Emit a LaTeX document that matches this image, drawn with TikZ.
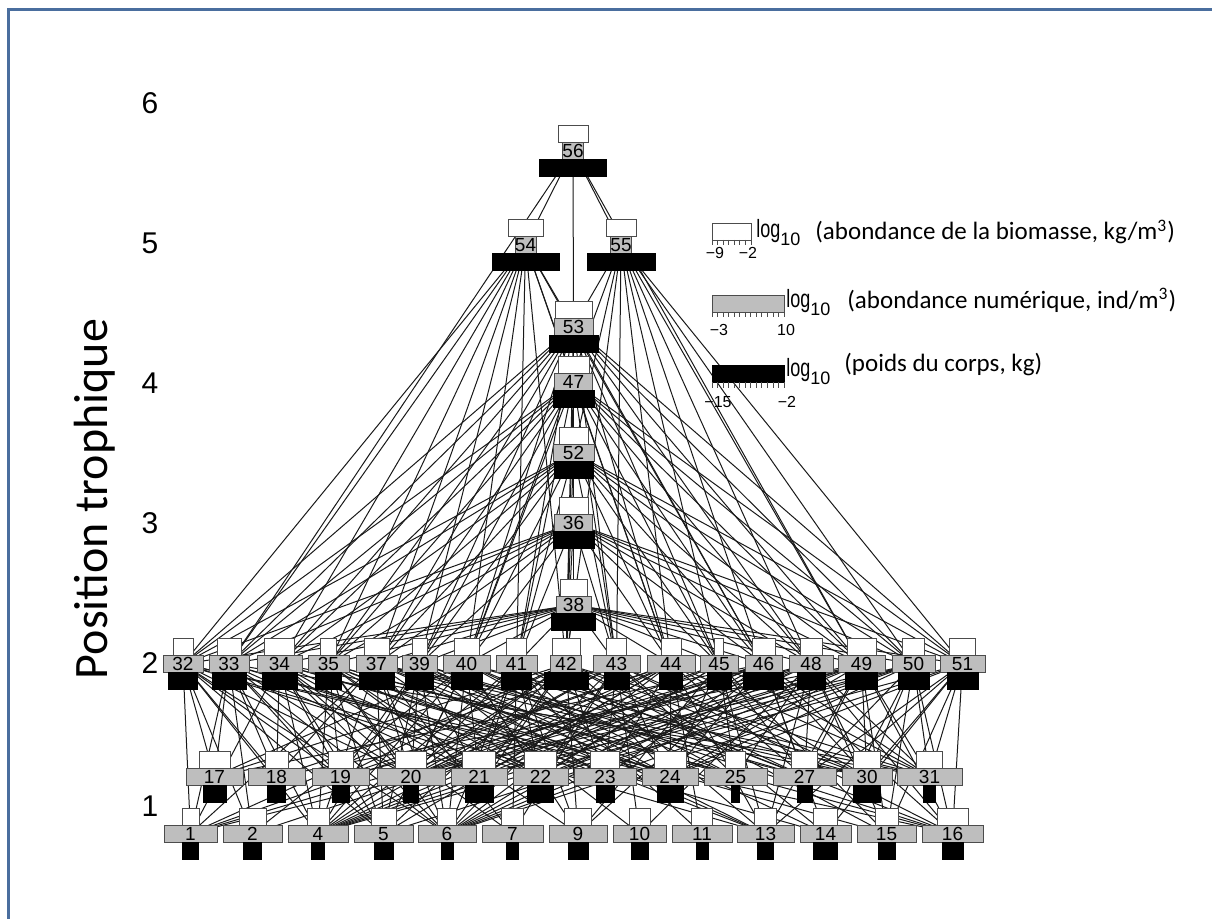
\documentclass[tikz,border=0pt]{standalone}
\usepackage{fontspec}
\setmainfont{Liberation Sans}
\newfontfamily\calibri{Carlito}
\usetikzlibrary{positioning,backgrounds}
\definecolor{frameblue}{RGB}{74,110,158}
\definecolor{boxgray}{RGB}{190,190,190}

\begin{document}
\begin{tikzpicture}[x=0.5pt, y=-0.5pt,
biobox/.style={rectangle, draw=black!70, fill=white, inner sep=0pt, minimum height=8.5pt},
numbox/.style={rectangle, draw=black!70, fill=boxgray, inner sep=0pt, minimum height=8.5pt,
  text height=6.8pt, text depth=0pt, font=\fontsize{9.5}{10}\selectfont},
massbox/.style={rectangle, draw=black, fill=black, inner sep=0pt, minimum height=8.5pt},
link/.style={black!90, line width=0.5pt},
ticklbl/.style={font=\fontsize{8}{9}\selectfont, inner sep=0pt},
loglbl/.style={anchor=west, inner sep=0pt},
levellbl/.style={font=\fontsize{15}{17}\selectfont, inner sep=0pt},
legtext/.style={font=\calibri\fontsize{12.5}{14}\selectfont, anchor=west, inner sep=0pt},
]
\useasboundingbox (0,0) rectangle (1212,919);

%Frame
\draw[frameblue, line width=1.5pt] (8,919) -- (8,9.5) -- (1212,9.5);

%Nodes: number / x / y / biomass / abundance / body weight
\foreach \n/\x/\y/\ww/\wg/\wb in {56/573/150.5/30/16/67, 54/525.5/244.5/35/18/67, 55/621/244.5/30/15/68,
  53/573.5/326.5/37/39/49, 47/573.5/381.5/31/38/41, 52/573.5/452.5/29/41/39,
  36/573.5/523/29/38/41, 38/573.5/605/27/35/44}{
  \node[numbox, minimum width=\wg*0.5pt] (s\n) at (\x,\y) {\n};
  \node[biobox, minimum width=\ww*0.5pt] (w\n) at (\x,\y-17) {};
  \node[massbox, minimum width=\wb*0.5pt] (m\n) at (\x,\y+17) {};
}
\foreach \n/\x/\ww/\wg/\wb in {32/183/20/40/29, 33/229/24/40/34, 34/279.5/30/45/35, 35/328.5/16/41/26,
  37/376.5/25/41/35, 39/419.5/15/35/28, 40/466.5/25/47/31, 41/516.5/20/41/30, 42/566/28/31/44,
  43/616.5/20/47/25, 44/671/20/48/23, 45/719/9/38/24, 46/763.5/23/37/40, 48/811/22/44/28,
  49/861.5/29/47/32, 50/913.5/22/43/31, 51/962.5/26/45/31}{
  \node[numbox, minimum width=\wg*0.5pt] (s\n) at (\x,664) {\n};
  \node[biobox, minimum width=\ww*0.5pt] (w\n) at (\x,647) {};
  \node[massbox, minimum width=\wb*0.5pt] (m\n) at (\x,681) {};
}
\foreach \n/\x/\ww/\wg/\wb in {17/214.5/31/57/23, 18/276.5/23/57/18, 19/340.5/25/57/17, 20/411/31/68/15,
  21/479/33/56/28, 22/540.5/32/55/26, 23/605/29/62/18, 24/670/32/56/26, 25/735.5/20/63/8,
  27/804.5/26/63/15, 30/867/27/50/27, 31/929.5/26/65/12}{
  \node[numbox, minimum width=\wg*0.5pt] (s\n) at (\x,776.5) {\n};
  \node[biobox, minimum width=\ww*0.5pt] (w\n) at (\x,759.5) {};
  \node[massbox, minimum width=\wb*0.5pt] (m\n) at (\x,793.5) {};
}
\foreach \n/\x/\ww/\wg/\wb in {1/190.5/17/53/16, 2/252.5/27/59/18, 4/318/22/60/13, 5/383.5/25/59/19,
  6/447/19/58/12, 7/512.5/22/61/12, 9/578/27/58/20, 10/639.5/21/53/17, 11/702/21/60/12,
  13/765.5/22/57/16, 14/825.5/24/51/24, 15/886.5/23/59/17, 16/952.5/31/61/21}{
  \node[numbox, minimum width=\wg*0.5pt] (s\n) at (\x,833.5) {\n};
  \node[biobox, minimum width=\ww*0.5pt] (w\n) at (\x,816.5) {};
  \node[massbox, minimum width=\wb*0.5pt] (m\n) at (\x,850.5) {};
}

%Lines (predator / prey)
\begin{pgfonlayer}{background}
\foreach \p/\preys in {56/{54,55,53,33,49}, 54/{53,47,32,33,34,35,37,39,40,41,42,44,46},
  55/{53,52,40,42,43,44,45,46,48,49,50,51}, 53/{47}, 47/{52}, 52/{36}, 36/{38},
  32/{17,18,19,20,22,1,2,4,5,6,13,16,24}, 33/{17,18,19,21,23,1,2,4,5,6,14,31,20},
  34/{18,19,20,22,24,1,4,5,6,7,15,30,21}, 35/{19,20,21,23,25,4,5,6,9,16,22,13},
  37/{18,20,22,24,25,27,1,4,5,6,7,13,31,30}, 39/{19,20,21,23,24,4,5,6,10,16,27,13},
  40/{17,20,21,22,24,30,2,4,5,6,9,14,31,25}, 41/{20,21,22,23,25,4,6,7,9,11,16,27},
  42/{17,19,20,21,23,24,27,1,4,5,6,9,13,15,31,30}, 43/{18,20,22,23,24,25,4,6,7,10,14,16,30},
  44/{19,20,21,23,24,27,30,1,4,5,6,11,13,31}, 45/{20,22,24,25,27,4,6,9,13,15,31},
  46/{17,20,21,23,24,27,30,1,2,4,6,9,14,16,31}, 48/{19,20,22,25,27,30,31,4,6,10,13,15,16},
  49/{18,21,22,24,27,30,31,1,4,6,13,15,16}, 50/{20,21,24,27,30,31,4,5,6,14,15,16},
  51/{22,24,27,30,31,6,13,14,15,16}}{
  \foreach \q in \preys \draw[link] (s\p.center) -- (s\q.center);
}
\foreach \p in {53,47,52,36,38}
  \foreach \q in {32,33,34,35,37,39,40,41,42,43,44,45,46,48,49,50,51}
    \draw[link] (s\p.center) -- (s\q.center);
\end{pgfonlayer}

%Legend
\node[biobox, minimum width=19.5pt] (legbio) at (731.5,231.5) {};
\node[numbox, minimum width=36pt] (legnum) at (748,303.5) {};
\node[massbox, minimum width=36pt] (legmass) at (748,373.5) {};
\foreach \i in {0,...,7} \draw[black!70] (712+\i*5.571,240) -- ++(0,5);
\foreach \i in {0,...,13} \draw[black!70] (712+\i*5.538,312) -- ++(0,5);
\foreach \i in {0,...,13} \draw[black!70] (712+\i*5.538,382) -- ++(0,6);
\node[ticklbl] (biomin) at (715,253) {−9};
\node[ticklbl] (biomax) at (748,253) {−2};
\node[ticklbl] (nummin) at (719,330) {−3};
\node[ticklbl] (nummax) at (786,330) {10};
\node[ticklbl] (massmin) at (718,402) {−15};
\node[ticklbl] (massmax) at (787,402) {−2};
\node[loglbl] (biolog) at (756,233) {\scalebox{0.72}[1]{\fontsize{12.5}{13}\selectfont log}\raisebox{-4pt}{\fontsize{9}{9}\selectfont 10}};
\node[loglbl] (numlog) at (786,303) {\scalebox{0.72}[1]{\fontsize{12.5}{13}\selectfont log}\raisebox{-4pt}{\fontsize{9}{9}\selectfont 10}};
\node[loglbl] (masslog) at (786,372) {\scalebox{0.72}[1]{\fontsize{12.5}{13}\selectfont log}\raisebox{-4pt}{\fontsize{9}{9}\selectfont 10}};

%Text
\node[legtext] (biotext) at (815,232) {(abondance de la biomasse, kg/m\textsuperscript{3})};
\node[legtext] (numtext) at (847,300) {(abondance numérique, ind/m\textsuperscript{3})};
\node[legtext] (masstext) at (844,365) {(poids du corps, kg)};
\foreach \l/\y in {6/103,5/243,4/383,3/523,2/663,1/806}
  \node[levellbl] (lvl\l) at (150,\y) {\l};
\node[rotate=90, font=\calibri\fontsize{24}{26}\selectfont, inner sep=0pt] (ytitle) at (95,499) {Position trophique};
\end{tikzpicture}
\end{document}
